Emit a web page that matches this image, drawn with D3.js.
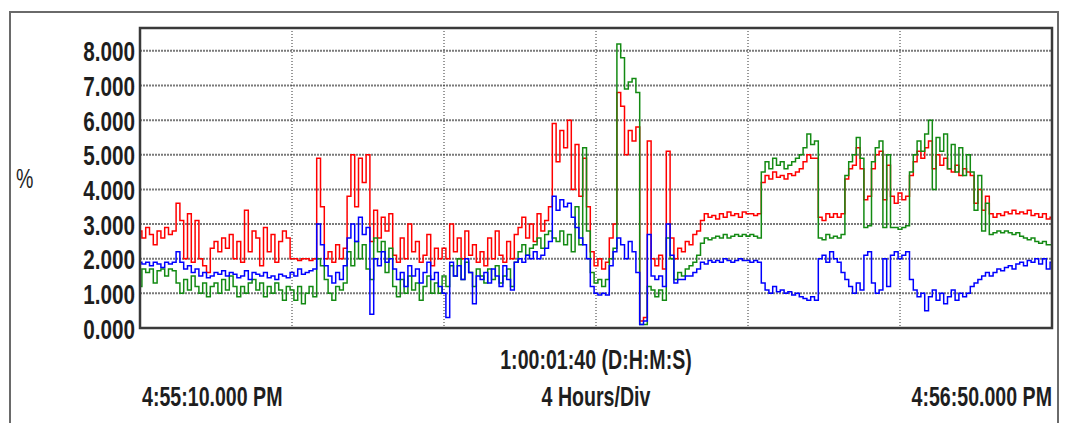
<!DOCTYPE html>
<html>
<head>
<meta charset="utf-8">
<script src="https://cdn.jsdelivr.net/npm/d3@7"></script>
<style>
  html, body { margin: 0; padding: 0; background: #fff; }
  svg { display: block; }
  text { font-family: "Liberation Sans", Arial, sans-serif; fill: #1e1e1e; }
</style>
</head>
<body>
<svg id="chart" width="1066" height="423"></svg>
<script>
// Recorder trace: 24 hours, sampled every 0.1 h (241 samples per channel), values in %
const yTickValues = [0, 1, 2, 3, 4, 5, 6, 7, 8];
const timeGridHours = [4, 8, 12, 16, 20];
const startLabel = "4:55:10.000 PM";
const endLabel = "4:56:50.000 PM";
const spanLabel = "1:00:01:40 (D:H:M:S)";
const divLabel = "4 Hours/Div";
const unitLabel = "%";

const redSeries = [
  2.8, 2.6, 2.9, 2.7, 2.4, 2.8, 2.6, 2.9, 2.7, 2.8,
  3.6, 3.1, 2.0, 3.3, 1.9,
  3.1, 2.0, 1.8, 1.6, 2.3,
  2.5, 2.2, 2.6, 2.3, 2.7, 2.0, 2.5,
  1.9, 3.4, 2.2, 2.8,
  2.6, 1.8, 2.9, 2.2, 2.7, 1.9, 2.5, 2.8, 2.6,
  2.0, 2.0, 1.95, 2.0, 2.0, 1.95, 2.0,
  4.9, 3.5,
  2.0, 2.2, 1.9, 2.4, 2.0,
  2.3, 3.8, 5.0, 3.5, 4.9, 4.2, 5.0,
  2.5,
  3.4, 2.6, 3.2, 2.8, 3.3,
  2.1, 1.9, 2.6, 2.0, 3.0, 2.2, 2.5, 1.9, 2.1, 2.7, 1.8, 2.3, 2.0,
  2.3, 2.0,
  3.0, 2.2, 2.6, 2.0, 2.8, 2.1, 2.4, 1.9,
  2.2, 1.8, 2.6, 2.0, 2.8, 2.1, 1.9, 2.5, 2.0, 2.7,
  2.9, 3.2, 2.6, 3.0,
  2.5, 3.3, 2.8, 3.1,
  3.5,
  5.9, 4.8, 5.7, 5.2, 6.0,
  4.0, 5.3, 3.8, 4.9, 3.5,
  2.2,
  1.8, 2.0, 1.7, 1.9,
  2.6, 3.0,
  6.8, 6.4, 5.0, 5.7, 5.4, 5.8,
  0.2, 0.3,
  5.4, 2.0,
  1.8, 2.1, 1.7,
  5.1, 2.6,
  2.0, 2.3, 2.2, 2.5, 2.4, 2.7, 2.8,
  3.1, 3.3, 3.2, 3.25, 3.15, 3.3, 3.2, 3.35, 3.25, 3.3, 3.2, 3.35, 3.3, 3.3, 3.25, 3.3,
  4.2,
  4.4, 4.3, 4.5, 4.35, 4.4, 4.3, 4.45, 4.4, 4.5, 4.6,
  4.8, 5.0, 4.9, 4.9,
  3.2, 3.1, 3.3, 3.2, 3.3, 3.2, 3.3,
  4.3, 4.6, 4.7, 5.2, 4.6,
  3.7, 3.8, 4.6, 5.0, 5.1, 3.7, 4.7, 3.8,
  3.6, 3.9, 3.7, 3.8,
  4.4,
  4.8, 5.1, 4.9, 5.2, 5.4, 4.6, 5.0, 4.7, 4.9,
  4.6, 4.5, 4.7, 4.4, 4.6, 4.5, 4.4,
  3.6, 4.0, 3.4, 3.8, 3.3,
  3.2, 3.3, 3.25, 3.35, 3.3, 3.4, 3.3, 3.35, 3.3, 3.4, 3.25, 3.3, 3.2, 3.3, 3.15, 3.2
];

const greenSeries = [
  1.2, 1.7, 1.6, 1.7, 1.3, 1.65, 1.7, 1.5, 1.7, 1.65,
  1.3, 1.0, 1.4, 1.1, 1.5,
  1.2, 1.0, 1.3, 0.9, 1.2,
  1.3, 1.0, 1.4, 1.1, 1.5, 1.2, 0.9,
  1.2, 1.0, 1.3, 1.4,
  1.1, 1.3, 0.9, 1.2, 1.0, 1.3, 1.1, 0.8, 1.2,
  1.1, 0.8, 1.2, 0.7, 1.0, 1.2, 0.9,
  2.0, 1.8,
  1.4, 1.0, 0.8, 1.2, 1.1,
  1.3, 2.2, 1.8, 2.5, 2.0, 2.4, 1.7,
  1.4,
  2.6, 2.2, 2.5, 1.6, 2.3,
  1.2, 0.9, 1.4, 1.0, 1.5, 1.1, 1.3, 0.8, 1.2, 1.5, 1.0, 1.3, 1.0,
  1.5, 1.2,
  1.8, 1.5, 2.0, 1.4, 1.9, 1.6, 1.2, 1.7,
  1.5, 1.3, 1.7, 1.4, 1.8, 1.3, 1.5, 1.7, 1.2, 1.9,
  2.2, 2.4, 2.1, 2.3,
  2.4, 2.6, 2.3, 2.7,
  2.8,
  2.6, 2.5, 2.8, 2.4, 2.7,
  2.2, 3.5, 2.4, 5.2, 2.8,
  1.6,
  1.3, 1.4, 1.2, 1.4,
  2.0, 2.3,
  8.2, 7.8, 6.9, 7.1, 7.2, 6.8,
  0.1, 0.1,
  1.2, 1.1,
  0.9, 1.1, 0.8,
  2.6, 2.0,
  1.4, 1.6, 1.5, 1.7, 1.8, 1.9, 2.1,
  2.45, 2.6, 2.55, 2.6, 2.65, 2.6, 2.7, 2.6, 2.65, 2.7, 2.65, 2.7, 2.65, 2.7, 2.65, 2.6,
  4.5,
  4.8, 4.6, 4.9, 4.7, 4.8, 4.6, 4.7, 4.8, 4.9, 5.0,
  5.2, 5.6, 5.3, 5.4,
  2.6, 2.55, 2.7, 2.6, 2.65, 2.6, 2.7,
  4.4, 4.8, 5.0, 5.5, 4.9,
  2.9, 2.95, 4.8, 5.2, 5.4, 2.9, 5.0, 2.9,
  2.9, 2.85, 2.9, 2.95,
  4.5,
  5.0, 5.4, 5.1, 5.6, 6.0, 4.0, 5.5, 5.1, 5.6,
  4.6, 5.3, 4.5, 5.2, 4.4, 5.0, 4.5,
  3.4, 4.4, 2.8, 3.6, 2.7,
  2.75, 2.8, 2.75, 2.8, 2.75, 2.7, 2.75, 2.65, 2.6, 2.55, 2.6, 2.5, 2.45, 2.5, 2.4, 2.4
];

const blueSeries = [
  1.9, 1.85, 1.9, 1.8, 1.9, 1.85, 1.75, 1.9, 1.85, 1.9,
  2.2, 1.9, 1.7, 1.8, 1.6,
  1.7, 1.5, 1.6, 1.45, 1.5,
  1.6, 1.55, 1.65, 1.5, 1.6, 1.55, 1.45,
  1.5, 1.65, 1.4, 1.6,
  1.55, 1.5, 1.6, 1.45, 1.5, 1.4, 1.55, 1.5, 1.45,
  1.6, 1.5, 1.7, 1.55, 1.6, 1.65, 1.7,
  3.0, 2.4,
  1.8, 1.5, 1.3, 1.6, 1.4,
  1.8, 2.6, 3.0, 2.5, 3.2, 2.7, 2.9,
  0.4,
  2.0, 1.8, 2.2, 1.9, 2.0,
  1.7, 1.4, 1.6, 1.2, 1.8, 1.5, 1.7, 1.3, 1.6, 1.9, 1.4, 1.6, 1.2,
  1.0, 0.3,
  1.9, 1.5, 1.8, 1.4, 2.0, 1.6, 0.7, 1.5,
  1.4, 1.6, 1.3, 1.7, 1.5, 1.2, 1.8, 1.4, 1.1, 1.9,
  2.0, 1.9, 2.1, 2.0,
  2.2, 2.0, 2.1, 2.3,
  2.5,
  3.8, 3.4, 3.7, 3.5, 3.6,
  3.2, 2.9, 2.6, 2.4, 2.0,
  1.2,
  1.0, 0.95, 1.0, 0.95,
  1.8, 2.2,
  2.6, 2.4, 2.0, 2.5, 2.2, 1.6,
  0.1, 0.2,
  2.7, 1.5,
  1.4, 1.5, 1.2,
  3.0, 2.1,
  1.3, 1.4, 1.4, 1.5, 1.5, 1.6, 1.7,
  1.9, 1.85, 1.95, 1.9, 1.95, 1.9, 2.0, 1.95, 1.9, 1.95, 2.0, 1.95, 1.95, 1.9, 1.95, 1.9,
  1.3,
  1.1, 1.0, 1.2, 1.05, 1.1, 1.0, 1.05, 0.95, 1.0, 0.9,
  0.85, 0.8, 0.9, 0.8,
  2.0, 2.1, 1.9, 2.2, 2.0, 1.9, 1.6,
  1.4, 1.2, 1.0, 1.3, 1.1,
  2.1, 2.2, 1.3, 1.0, 1.1, 2.0, 1.2, 2.1,
  2.2, 2.0, 2.1, 2.2,
  1.4,
  1.1, 0.9, 1.0, 0.5, 0.9, 1.1, 0.8, 1.0, 0.7,
  0.9, 1.1, 0.8, 1.0, 0.9, 1.0, 1.2,
  1.3, 1.4, 1.5, 1.6, 1.5,
  1.6, 1.7, 1.65, 1.75, 1.8, 1.7, 1.85, 1.9, 1.8, 1.95, 1.9, 2.0, 1.85, 2.0, 1.7, 1.9
];

const channels = [
  { values: redSeries, color: "#ff0000" },
  { values: greenSeries, color: "#138a13" },
  { values: blueSeries, color: "#0000ff" }
];

const svg = d3.select("#chart");
const plot = { left: 140, right: 1052, top: 28, bottom: 328 };

const x = d3.scaleLinear().domain([0, 24]).range([plot.left, plot.right]);
const y = d3.scaleLinear().domain([0, 8.66]).range([plot.bottom, plot.top]);
const fmt = d3.format(".3f");
const squeezeAxis = 0.74;
const squeezeText = 0.70;

// outer frame
svg.append("rect")
  .attr("x", 10).attr("y", 12).attr("width", 1048).attr("height", 440)
  .attr("fill", "none").attr("stroke", "#6a6a6a").attr("stroke-width", 2);

// horizontal grid
svg.append("g").selectAll("line")
  .data(yTickValues.filter(v => v > 0))
  .join("line")
  .attr("x1", plot.left).attr("x2", plot.right)
  .attr("y1", d => y(d)).attr("y2", d => y(d))
  .attr("stroke", "#7a7a7a").attr("stroke-width", 2)
  .attr("stroke-dasharray", "2,1");

// vertical grid
svg.append("g").selectAll("line")
  .data(timeGridHours)
  .join("line")
  .attr("x1", d => x(d)).attr("x2", d => x(d))
  .attr("y1", plot.top).attr("y2", plot.bottom)
  .attr("stroke", "#333").attr("stroke-width", 1)
  .attr("stroke-dasharray", "1,2");

// traces
svg.append("clipPath").attr("id", "plotclip")
  .append("rect")
  .attr("x", plot.left).attr("y", plot.top)
  .attr("width", plot.right - plot.left).attr("height", plot.bottom - plot.top);

const traces = svg.append("g").attr("clip-path", "url(#plotclip)");
channels.forEach(ch => {
  const n = ch.values.length;
  const line = d3.line()
    .x((d, i) => x(i * 24 / (n - 1)))
    .y(d => y(d))
    .curve(d3.curveStep);
  traces.append("path")
    .datum(ch.values)
    .attr("d", line)
    .attr("fill", "none")
    .attr("stroke", ch.color)
    .attr("stroke-width", 1.5)
    .attr("stroke-linejoin", "miter");
});

// plot border
svg.append("rect")
  .attr("x", plot.left).attr("y", plot.top)
  .attr("width", plot.right - plot.left).attr("height", plot.bottom - plot.top)
  .attr("fill", "none").attr("stroke", "#3a3a3a").attr("stroke-width", 2.5);

// y axis labels
const yAxis = d3.axisLeft(y).tickValues(yTickValues).tickFormat(fmt).tickSize(0);
const yg = svg.append("g").attr("transform", `translate(${plot.left - 5},0)`).call(yAxis);
yg.select(".domain").remove();
yg.selectAll(".tick text")
  .attr("x", 0).attr("dy", "0.36em")
  .attr("transform", `scale(${squeezeAxis},1)`)
  .style("font-size", "28px").style("font-weight", "bold")
  .style("font-family", "'Liberation Sans', Arial, sans-serif")
  .attr("fill", "#1e1e1e");

function label(txt, px, py, anchor, weight) {
  svg.append("text")
    .attr("transform", `translate(${px},${py}) scale(${squeezeText},1)`)
    .attr("text-anchor", anchor)
    .style("font-size", "28px")
    .style("font-weight", weight)
    .text(txt);
}

label(unitLabel, 16, 188, "start", "normal");
label(spanLabel, x(12), 369, "middle", "bold");
label(divLabel, x(12), 406, "middle", "bold");
label(startLabel, 142, 406, "start", "bold");
label(endLabel, plot.right, 406, "end", "bold");
</script>
</body>
</html>
